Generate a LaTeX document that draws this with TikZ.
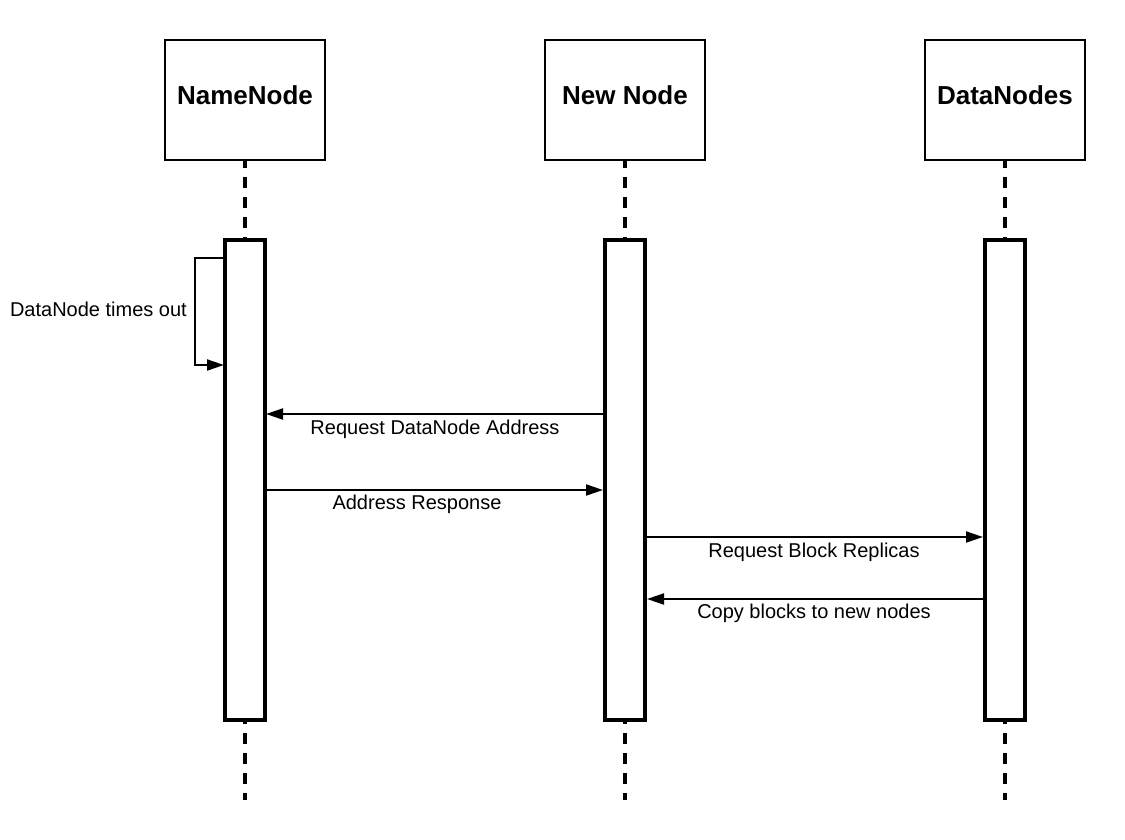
\documentclass[tikz,border=0pt]{standalone}
\usepackage{fontspec}
\setmainfont{Liberation Sans}
\usetikzlibrary{arrows.meta}
\begin{document}
\begin{tikzpicture}[x=1pt,y=-1pt,
  head/.style={draw,line width=2pt,minimum width=160pt,minimum height=120pt,outer sep=0pt,inner sep=0pt},
  headtxt/.style={inner sep=0pt,font=\fontsize{26}{30}\selectfont\bfseries},
  bar/.style={draw,line width=4pt,fill=white,minimum width=40pt,minimum height=480pt,outer sep=0pt,inner sep=0pt},
  life/.style={line width=4pt,dash pattern=on 11pt off 9pt},
  msg/.style={line width=2pt,-{Triangle[length=17pt,width=11pt]}},
  lbl/.style={font=\fontsize{20}{24}\selectfont,inner sep=0pt}]
\useasboundingbox (0,0) rectangle (1125,840);
% heads
\node[head] (nn) at (245,100) {};
\node[head] (nw) at (625,100) {};
\node[head] (dn) at (1005,100) {};
\node[headtxt] (nnt) at (245,95) {NameNode};
\node[headtxt] (nwt) at (625,95) {New Node};
\node[headtxt] (dnt) at (1005,95) {DataNodes};
% activation bars
\node[bar] (nnb) at (245,480) {};
\node[bar] (nwb) at (625,480) {};
\node[bar] (dnb) at (1005,480) {};
% lifeline ends
\coordinate (nne) at (245,800);
\coordinate (nwe) at (625,800);
\coordinate (dne) at (1005,800);
\begin{scope}[dash phase=3pt]
\draw[life] (nn.south) -- (nnb.north);
\draw[life] (nw.south) -- (nwb.north);
\draw[life] (dn.south) -- (dnb.north);
\end{scope}
\begin{scope}[dash phase=7pt]
\draw[life] (nnb.south) -- (nne);
\draw[life] (nwb.south) -- (nwe);
\draw[life] (dnb.south) -- (dne);
\end{scope}
% self message
\draw[msg] (nnb.west |- 0,258) -- ++(-30,0) |- ([xshift=-1pt]nnb.west |- 0,365);
\node[lbl,anchor=east] (l0) at (187,309) {DataNode times out};
% messages
\draw[msg] (nwb.west |- 0,414) -- ([xshift=1pt]nnb.east |- 0,414);
\node[lbl] (l1) at (435,429) {Request DataNode Address};
\draw[msg] (nnb.east |- 0,490) -- ([xshift=-2pt]nwb.west |- 0,490);
\node[lbl] (l2) at (417,504) {Address Response};
\draw[msg] (nwb.east |- 0,537) -- ([xshift=-2pt]dnb.west |- 0,537);
\node[lbl] (l3) at (814,552) {Request Block Replicas};
\draw[msg] (dnb.west |- 0,599) -- ([xshift=2pt]nwb.east |- 0,599);
\node[lbl] (l4) at (814,613) {Copy blocks to new nodes};
\end{tikzpicture}
\end{document}
